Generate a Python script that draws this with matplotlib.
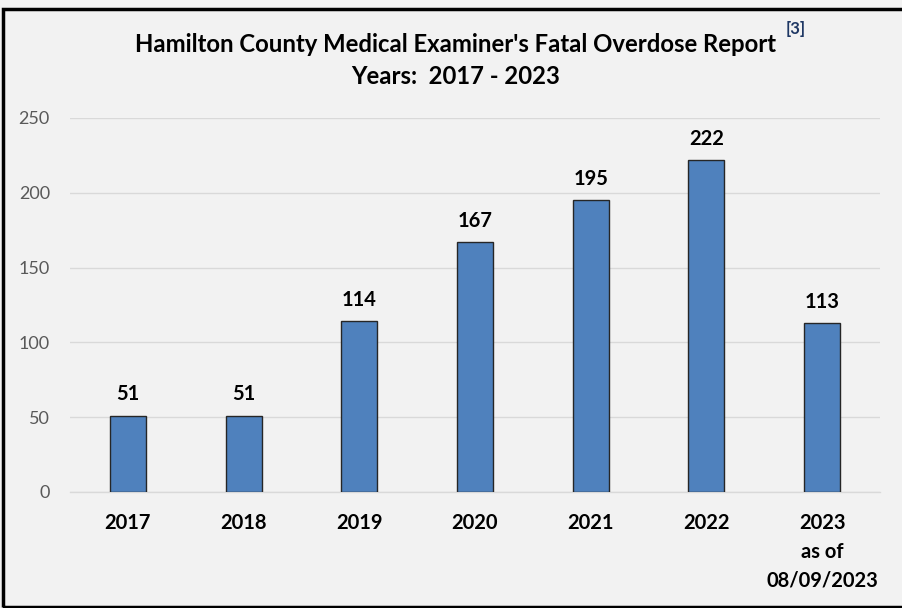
import matplotlib
matplotlib.use("Agg")
import matplotlib.pyplot as plt
from matplotlib.patches import Rectangle

categories = ["2017", "2018", "2019", "2020", "2021", "2022", "2023\nas of\n08/09/2023"]
values = [51, 51, 114, 167, 195, 222, 113]
yticks = [0, 50, 100, 150, 200, 250]

W, H = 902, 608
fig = plt.figure(figsize=(W / 100, H / 100), dpi=100)
fig.patch.set_facecolor("#F2F2F2")
font = ["Lato", "DejaVu Sans"]

# outer border
fig.patches.append(Rectangle((3 / W, 1 / H), 1.2, (H - 10) / H, transform=fig.transFigure,
                             fill=False, edgecolor="black", linewidth=2.5, zorder=10))

ax = fig.add_axes([70 / W, (H - 492) / H, 810 / W, (492 - 118) / H])
ax.set_facecolor("#F2F2F2")
x = list(range(len(categories)))
ax.bar(x, values, width=0.31, color="#4F81BD", edgecolor="#262626", linewidth=1.0, zorder=3)
for xi, v in zip(x, values):
    ax.text(xi, v + 7.5, str(v), ha="center", va="bottom", fontsize=14.5, fontweight="bold",
            family=font, color="black")

ax.set_xlim(-0.5, 6.5)
ax.set_ylim(0, 250)
ax.set_yticks(yticks)
ax.set_yticklabels([str(t) for t in yticks], family=font, fontsize=13, color="#595959")
ax.set_xticks(x)
ax.set_xticklabels(categories, family=font, fontsize=14.5, fontweight="bold", color="black",
                   linespacing=1.55)
ax.tick_params(axis="both", length=0)
ax.tick_params(axis="y", pad=14.5)
ax.tick_params(axis="x", pad=15)
ax.grid(axis="y", color="#D9D9D9", linewidth=1, zorder=0)
for s in ["top", "right", "left"]:
    ax.spines[s].set_visible(False)
ax.spines["bottom"].set_color("#D9D9D9")
ax.spines["bottom"].set_linewidth(1)

fig.text(456 / W, 1 - 45 / H, "Hamilton County Medical Examiner's Fatal Overdose Report",
         ha="center", va="center", fontsize=17.2, fontweight="bold", family=font, color="black")
fig.text(456 / W, 1 - 76 / H, "Years:  2017 - 2023",
         ha="center", va="center", fontsize=17.2, fontweight="bold", family=font, color="black")
fig.text(796 / W, 1 - 29 / H, "[3]", ha="center", va="center", fontsize=12,
         fontweight="bold", family=font, color="#1F3864")

fig.savefig("out.png", dpi=100, facecolor=fig.get_facecolor())
